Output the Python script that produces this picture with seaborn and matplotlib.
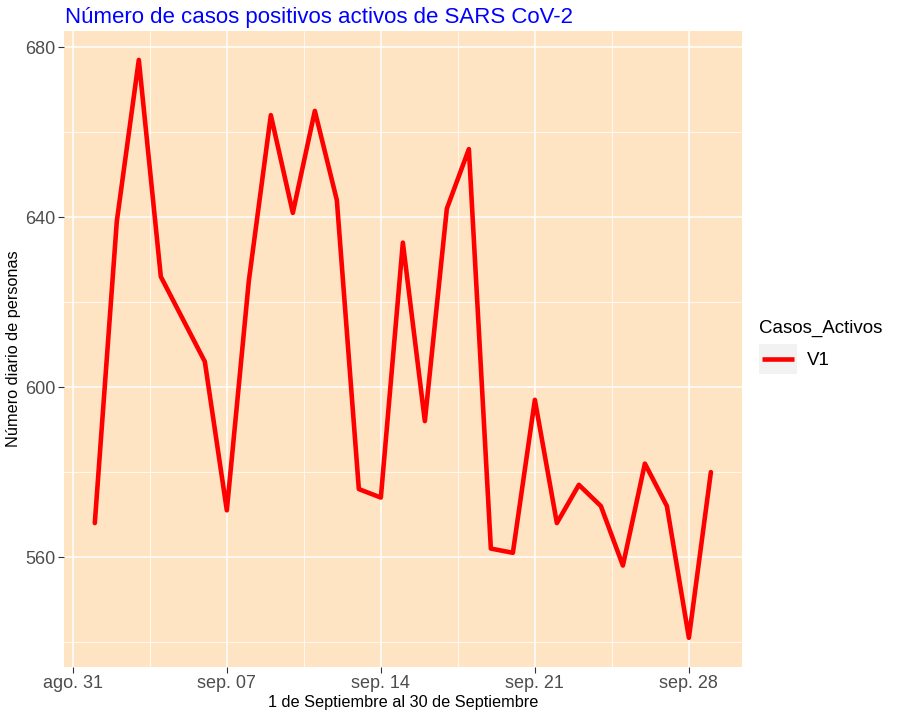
import matplotlib
matplotlib.use("Agg")
import matplotlib.pyplot as plt
import matplotlib.dates as mdates
from matplotlib.patches import Rectangle
from matplotlib.lines import Line2D
from matplotlib.legend_handler import HandlerLine2D
from matplotlib.ticker import FixedLocator
import seaborn as sns
import pandas as pd
import numpy as np

# ---------------- data ----------------
fechas = pd.date_range("2020-09-01", "2020-09-29", freq="D")
casos_activos = [568, 639, 677, 626, 616, 606, 571, 625, 664, 641,
                 665, 644, 576, 574, 634, 592, 642, 656, 562, 561,
                 597, 568, 577, 572, 558, 582, 572, 541, 580]
serie = ["V1"] * len(casos_activos)
x_tick_dates = ["2020-08-31", "2020-09-07", "2020-09-14", "2020-09-21", "2020-09-28"]
x_tick_labels = ["ago. 31", "sep. 07", "sep. 14", "sep. 21", "sep. 28"]
y_ticks = [560, 600, 640, 680]

titulo = "Número de casos positivos activos de SARS CoV-2"
etiqueta_x = "1 de Septiembre al 30 de Septiembre"
etiqueta_y = "Número diario de personas"
titulo_leyenda = "Casos_Activos"

df = pd.DataFrame({"Fecha": fechas, "Casos": casos_activos, "Casos_Activos": serie})

# ---------------- style ----------------
sns.set_theme(style="darkgrid", rc={
    "axes.facecolor": "#FFE4C4",
    "grid.color": "white",
    "axes.edgecolor": "none",
    "xtick.bottom": True,
    "ytick.left": True,
})
plt.rcParams["font.family"] = ["Liberation Sans", "DejaVu Sans"]

fig = plt.figure(figsize=(9, 7.2), dpi=100)
ax = fig.add_axes([64 / 900, 1 - 666.7 / 720, (741.7 - 64) / 900, (666.7 - 31) / 720])

sns.lineplot(data=df, x="Fecha", y="Casos", hue="Casos_Activos",
             palette={"V1": "#FF0000"}, linewidth=3.3, ax=ax)

# limits with 5% expansion (ggplot default)
xnum = mdates.date2num(df["Fecha"])
xr = xnum.max() - xnum.min()
ax.set_xlim(xnum.min() - 0.05 * xr, xnum.max() + 0.05 * xr)
yv = np.array(casos_activos)
yr = yv.max() - yv.min()
ax.set_ylim(yv.min() - 0.05 * yr, yv.max() + 0.05 * yr)

# ticks
maj_x = mdates.date2num(pd.to_datetime(x_tick_dates))
ax.xaxis.set_major_locator(FixedLocator(maj_x))
ax.set_xticklabels(x_tick_labels)
ax.xaxis.set_minor_locator(FixedLocator((maj_x[:-1] + maj_x[1:]) / 2))
ax.yaxis.set_major_locator(FixedLocator(y_ticks))
ax.yaxis.set_minor_locator(FixedLocator([(a + b) / 2 for a, b in zip([520] + y_ticks, y_ticks + [720])]))

ax.grid(which="major", color="white", linewidth=1.1)
ax.grid(which="minor", color="white", linewidth=0.55)
ax.tick_params(which="major", length=4, width=0.8, color="#333333",
               labelsize=13, labelcolor="#4D4D4D", pad=2)
ax.tick_params(which="minor", length=0)

ax.set_title(titulo, loc="left", color="#0000FF", fontsize=16, pad=6, x=0.001)
ax.set_xlabel(etiqueta_x, fontsize=11.7, color="black", labelpad=2)
ax.set_ylabel(etiqueta_y, fontsize=11.7, color="black", labelpad=3)


# legend with ggplot-like grey key background
class KeyHandler(HandlerLine2D):
    def create_artists(self, legend, orig_handle, xdescent, ydescent,
                       width, height, fontsize, trans):
        r = Rectangle((-xdescent, -ydescent), width, height,
                      facecolor="#F2F2F2", edgecolor="none", transform=trans)
        y = -ydescent + height / 2
        l = Line2D([-xdescent + 0.08 * width, -xdescent + 0.92 * width], [y, y],
                   color=orig_handle.get_color(), linewidth=3.3,
                   solid_capstyle="butt", transform=trans)
        return [r, l]


old = ax.get_legend()
handles = list(old.legend_handles)
labels = [t.get_text() for t in old.get_texts()]
old.remove()

fs_px = 13.5 * 100 / 72
leg = ax.legend(handles, labels, title=titulo_leyenda, loc="center left",
                bbox_to_anchor=((759 - 64) / 677.7, 0.503), frameon=False,
                fontsize=13.5, title_fontsize=13.5, alignment="left",
                handlelength=38 / fs_px, handleheight=39 / fs_px,
                handletextpad=10 / fs_px, borderpad=0.0, borderaxespad=0.0,
                labelspacing=0.4,
                handler_map={Line2D: KeyHandler()})
leg.get_title().set_color("black")
for t in leg.get_texts():
    t.set_color("black")

fig.savefig("out.png", dpi=100)
